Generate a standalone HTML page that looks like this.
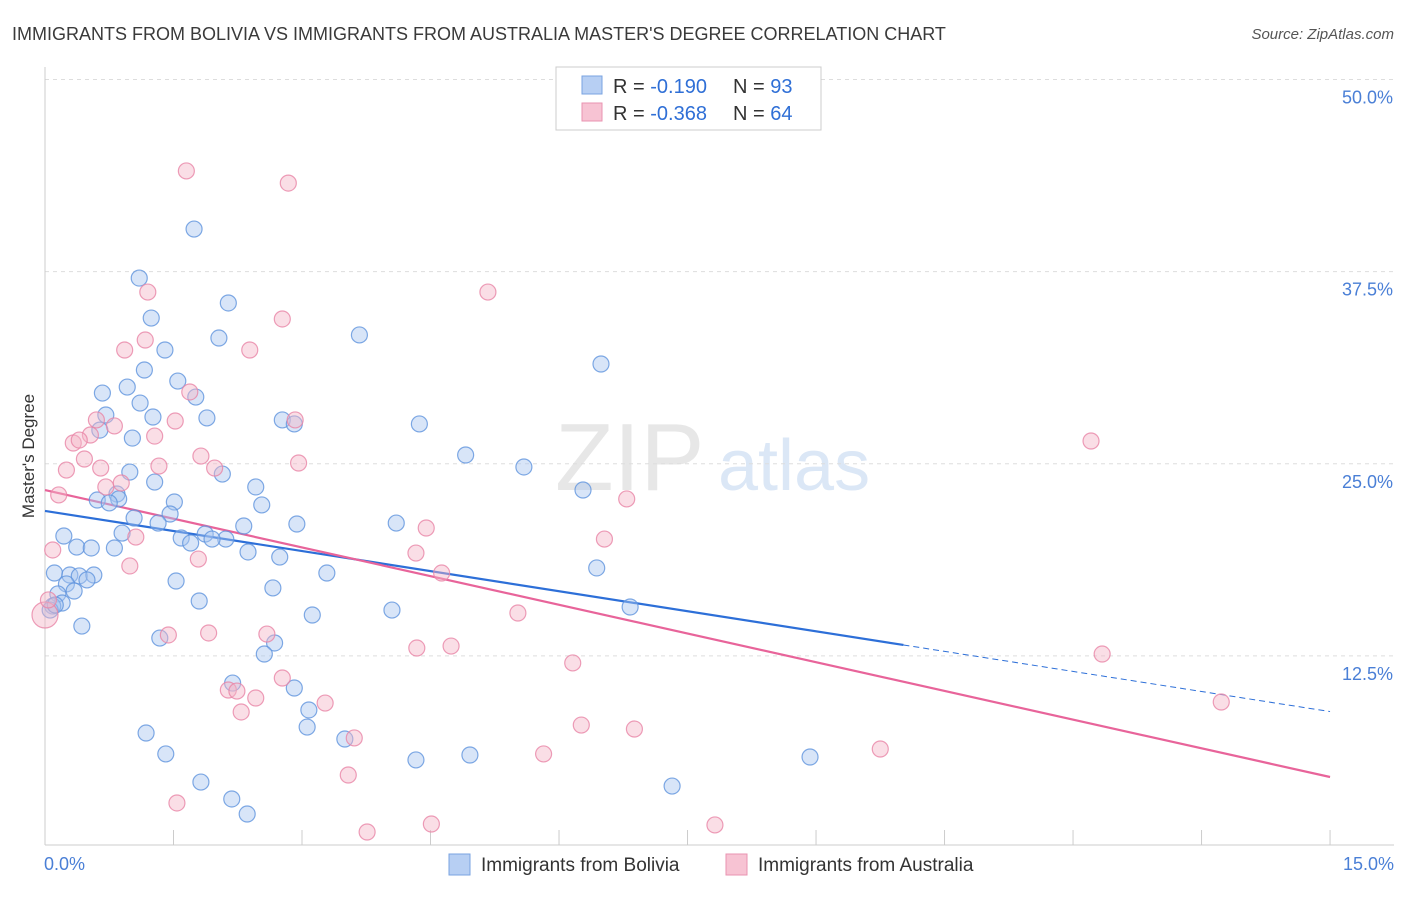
<!DOCTYPE html>
<html><head><meta charset="utf-8"><style>
body{margin:0;background:#fff;font-family:"Liberation Sans",sans-serif;}
svg text{font-family:"Liberation Sans",sans-serif;}
</style></head><body>
<svg id="chart" width="1406" height="892">
<text x="12" y="40" font-size="18" fill="#3a3a3a">IMMIGRANTS FROM BOLIVIA VS IMMIGRANTS FROM AUSTRALIA MASTER'S DEGREE CORRELATION CHART</text>
<text x="1394" y="39" font-size="15" fill="#555" font-style="italic" text-anchor="end">Source: ZipAtlas.com</text>
<text x="34" y="456" font-size="17" fill="#333" text-anchor="middle" transform="rotate(-90 34 456)">Master's Degree</text>
<g opacity="0.35">
<text x="555" y="490" font-size="96" font-family="Liberation Serif,serif" fill="#bbb">ZIP</text>
<text x="718" y="490" font-size="72" fill="#9bbbe6">atlas</text>
</g>
<g id="grid"></g><g id="axes"></g><g id="lines"></g><g id="pts"></g>
<g>
<rect x="556" y="67" width="265" height="63" fill="#fff" stroke="#ccc"/>
<rect x="582" y="76" width="20" height="18" fill="#b7cff3" stroke="#7aa3e0"/>
<rect x="582" y="103" width="20" height="18" fill="#f7c3d3" stroke="#ea93b0"/>
<text x="613" y="93" font-size="20" fill="#333">R = <tspan fill="#2f6fd6">-0.190</tspan><tspan x="733">N = </tspan><tspan fill="#2f6fd6">93</tspan></text>
<text x="613" y="120" font-size="20" fill="#333">R = <tspan fill="#2f6fd6">-0.368</tspan><tspan x="733">N = </tspan><tspan fill="#2f6fd6">64</tspan></text>
</g>
<g>
<rect x="449" y="854" width="21" height="21" fill="#b7cff3" stroke="#7aa3e0"/>
<text x="481" y="871" font-size="19" fill="#333">Immigrants from Bolivia</text>
<rect x="726" y="854" width="21" height="21" fill="#f7c3d3" stroke="#ea93b0"/>
<text x="758" y="871" font-size="19" fill="#333">Immigrants from Australia</text>
</g>
</svg>
<script>
const yTicks=[12.5,25,37.5,50];
const yTickLabels=["12.5%","25.0%","37.5%","50.0%"];
const xTicks=[0,1.5,3,4.5,6,7.5,9,10.5,12,13.5,15];
const bolX=[1.74,1.10,2.14,1.24,3.67,2.03,1.40,6.49,1.16,1.55,0.96,0.67,1.76,1.11,0.71,1.26,1.89,2.77,2.91,4.37,0.64,1.02,4.91,5.59,0.99,2.07,1.28,2.46,6.28,0.84,0.61,0.86,0.75,1.51,2.53,1.46,1.04,1.32,2.94,4.10,2.32,0.22,0.90,1.59,1.87,2.11,1.95,1.70,0.37,0.54,0.81,2.37,2.74,6.44,0.11,3.29,0.29,0.40,0.57,0.49,0.25,1.53,0.34,0.15,2.66,1.80,0.20,0.09,6.83,3.12,4.05,0.43,1.34,2.68,2.56,2.19,2.91,3.08,3.06,1.18,3.50,1.41,4.33,4.96,8.93,7.32,1.82,2.18,2.36,0.06,0.12];
const bolY=[40.27,37.08,35.46,34.48,33.38,33.18,32.40,31.49,31.10,30.38,29.99,29.60,29.34,28.95,28.17,28.04,27.98,27.85,27.59,27.59,27.19,26.67,25.57,24.79,24.46,24.33,23.81,23.49,23.29,23.03,22.64,22.71,22.45,22.51,22.32,21.73,21.47,21.14,21.08,21.14,20.95,20.30,20.49,20.17,20.43,20.10,20.10,19.84,19.58,19.52,19.52,19.26,18.93,18.22,17.89,17.89,17.76,17.70,17.76,17.44,17.18,17.37,16.72,16.53,16.92,16.07,15.94,15.74,15.68,15.16,15.48,14.44,13.66,13.34,12.62,10.73,10.41,8.98,7.87,7.48,7.09,6.12,5.73,6.05,5.92,4.03,4.29,3.19,2.21,15.48,15.81];
const ausX=[1.65,2.84,5.17,1.20,2.77,1.17,0.93,2.39,1.69,0.60,1.52,2.92,0.81,0.53,1.28,0.33,0.40,0.46,1.82,0.25,0.65,1.33,1.98,2.96,12.21,0.16,0.89,0.71,6.79,4.45,1.06,6.53,0.09,4.33,0.99,1.79,4.63,5.52,1.44,1.91,2.59,4.34,4.74,6.16,12.34,2.77,2.14,2.24,2.46,3.27,2.29,6.26,6.88,3.61,13.73,5.82,9.75,3.54,1.54,3.76,4.51,7.82,0.0,0.04];
const ausY=[44.05,43.26,36.17,36.17,34.42,33.05,32.40,32.40,29.67,27.85,27.78,27.85,27.46,26.87,26.80,26.35,26.54,25.31,25.50,24.59,24.72,24.85,24.72,25.05,26.48,22.97,23.75,23.49,22.71,20.82,20.23,20.10,19.39,19.19,18.35,18.80,17.89,15.29,13.86,13.99,13.92,13.01,13.14,12.04,12.62,11.06,10.28,10.21,9.76,9.43,8.85,8.00,7.74,7.16,9.50,6.12,6.44,4.75,2.93,1.04,1.56,1.50,15.16,16.14];
const bolTrend=[21.93,-0.8702];
const ausTrend=[23.29,-1.2447];
const bolSolidEnd=10.02;

const NS="http://www.w3.org/2000/svg";
const sx=v=>45+v*85.67, sy=v=>848-v*15.37;
function mk(p,t,a){const e=document.createElementNS(NS,t);for(const k in a)e.setAttribute(k,a[k]);document.getElementById(p).appendChild(e);return e;}
yTicks.forEach((t,i)=>{
 const g=mk('grid','line',{x1:45,x2:1394,y1:sy(t),y2:sy(t),stroke:'#ddd','stroke-dasharray':'4,4'});
 
 
 const l=mk('grid','text',{x:1393,y:sy(t)+24,'font-size':18,fill:'#4a7fd6','text-anchor':'end'});
 l.textContent=yTickLabels[i];
 
 
});
const ya=mk('axes','line',{x1:45,x2:45,y1:67,y2:845,stroke:'#ccc'});


const xa=mk('axes','line',{x1:45,x2:1394,y1:845,y2:845,stroke:'#ccc'});


xTicks.forEach(t=>{
 const k=mk('axes','line',{x1:sx(t),x2:sx(t),y1:830,y2:845,stroke:'#ccc'});
 
 
});
const xl0=mk('axes','text',{x:44,y:870,'font-size':18,fill:'#4a7fd6'});xl0.textContent='0.0%';


const xl1=mk('axes','text',{x:1394,y:870,'font-size':18,fill:'#4a7fd6','text-anchor':'end'});xl1.textContent='15.0%';



function pts(X,Y,fill,stroke,name){X.forEach((x,i)=>{
 const c=mk('pts','circle',{cx:sx(x),cy:sy(Y[i]),r:(i===X.length-2&&name==='australia-point')?13:8,fill:fill,'fill-opacity':0.45,stroke:stroke,'stroke-width':1.2,'stroke-opacity':0.8});
 
 
});}
pts(bolX,bolY,'#a9c6f0','#5f93dd','bolivia-point');
pts(ausX,ausY,'#f4b6c8','#e885a6','australia-point');
const tl=(t,x)=>t[0]+t[1]*x;
const b1=mk('lines','line',{x1:sx(0),y1:sy(tl(bolTrend,0)),x2:sx(bolSolidEnd),y2:sy(tl(bolTrend,bolSolidEnd)),stroke:'#2d6fd8','stroke-width':2.2});


const b2=mk('lines','line',{x1:sx(bolSolidEnd),y1:sy(tl(bolTrend,bolSolidEnd)),x2:sx(15),y2:sy(tl(bolTrend,15)),stroke:'#2d6fd8','stroke-width':1,'stroke-dasharray':'6,4'});


const a1=mk('lines','line',{x1:sx(0),y1:sy(tl(ausTrend,0)),x2:sx(15),y2:sy(tl(ausTrend,15)),stroke:'#e8649a','stroke-width':2.2});


</script>
</body></html>
